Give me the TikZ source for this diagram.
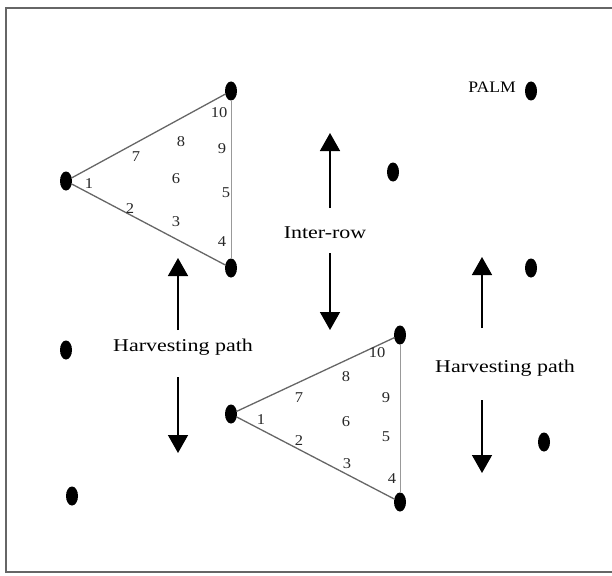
\documentclass[tikz,border=0pt]{standalone}
\usepackage{fontspec}
\setmainfont{Liberation Serif}
\usetikzlibrary{shapes.geometric,arrows.meta}

\newcommand{\wide}[2][1.22]{\scalebox{#1}[1]{#2}}

\begin{document}
\begin{tikzpicture}[x=1pt,y=-1pt,
    palm/.style={ellipse,fill=black,inner sep=0pt,minimum width=12pt,minimum height=19pt},
    rowline/.style={draw=black!60,line width=1.3pt},
    num/.style={inner sep=0pt,text=black!85,font=\fontsize{15}{15}\selectfont},
    lbl/.style={inner sep=0pt,font=\fontsize{18}{18}\selectfont},
    patharrow/.style={line width=1.5pt,-{Triangle[width=20pt,length=18pt]}}]
    \useasboundingbox (0,0) rectangle (612,575);

    % Frame
    \draw[black!60,line width=1.6pt] (620,8) -- (6,8) -- (6,572) -- (620,572);

    % Palms
    \node[palm] (p1) at (66,181) {};
    \node[palm] (p2) at (231,91) {};
    \node[palm] (p3) at (231,268) {};
    \node[palm] (q1) at (231,414) {};
    \node[palm] (q2) at (400,335) {};
    \node[palm] (q3) at (400,502) {};
    \node[palm] (r1) at (393,172) {};
    \node[palm] (r2) at (531,91) {};
    \node[palm] (r3) at (531,268) {};
    \node[palm] (r4) at (66,350) {};
    \node[palm] (r5) at (544,442) {};
    \node[palm] (r6) at (72,496) {};
    \node[lbl] (palm) at (492,87) {\wide[1.1]{\fontsize{16}{16}\selectfont PALM}};

    % Harvesting triangles
    \draw[rowline] (p1) -- (p2);
    \draw[rowline] (p1) -- (p3);
    \draw[rowline,draw=black!40,line width=0.9pt] (p2) -- (p3);
    \draw[rowline] (q1) -- (q2);
    \draw[rowline] (q1) -- (q3);
    \draw[rowline,draw=black!40,line width=0.9pt] (q2) -- (q3);

    % Order of palms, upper triangle
    \node[num] (a1) at (89,184) {\wide[1.1]{1}};
    \node[num] (a2) at (130,209) {\wide[1.1]{2}};
    \node[num] (a3) at (176,222) {\wide[1.1]{3}};
    \node[num] (a4) at (222,242) {\wide[1.1]{4}};
    \node[num] (a5) at (226,193) {\wide[1.1]{5}};
    \node[num] (a6) at (176,179) {\wide[1.1]{6}};
    \node[num] (a7) at (136,157) {\wide[1.1]{7}};
    \node[num] (a8) at (181,142) {\wide[1.1]{8}};
    \node[num] (a9) at (222,149) {\wide[1.1]{9}};
    \node[num] (a10) at (219,113) {\wide[1.1]{10}};

    % Order of palms, lower triangle
    \node[num] (b1) at (261,420) {\wide[1.1]{1}};
    \node[num] (b2) at (299,441) {\wide[1.1]{2}};
    \node[num] (b3) at (347,464) {\wide[1.1]{3}};
    \node[num] (b4) at (392,479) {\wide[1.1]{4}};
    \node[num] (b5) at (386,437) {\wide[1.1]{5}};
    \node[num] (b6) at (346,422) {\wide[1.1]{6}};
    \node[num] (b7) at (299,398) {\wide[1.1]{7}};
    \node[num] (b8) at (346,377) {\wide[1.1]{8}};
    \node[num] (b9) at (386,398) {\wide[1.1]{9}};
    \node[num] (b10) at (377,353) {\wide[1.1]{10}};

    % Labels and arrows
    \node[lbl] (inter) at (325,233) {\wide{Inter-row}};
    \node[lbl] (harvL) at (183,347) {\wide{Harvesting path}};
    \node[lbl] (harvR) at (505,368) {\wide{Harvesting path}};
    \coordinate (interUp) at (330,133);
    \coordinate (interDn) at (330,330);
    \coordinate (harvLUp) at (178,258);
    \coordinate (harvLDn) at (178,453);
    \coordinate (harvRUp) at (482,257);
    \coordinate (harvRDn) at (482,473);
    \draw[patharrow,shorten <=25pt] (inter.center -| interUp) -- (interUp);
    \draw[patharrow,shorten <=20pt] (inter.center -| interDn) -- (interDn);
    \draw[patharrow,shorten <=17pt] (harvL.center -| harvLUp) -- (harvLUp);
    \draw[patharrow,shorten <=30pt] (harvL.center -| harvLDn) -- (harvLDn);
    \draw[patharrow,shorten <=40pt] (harvR.center -| harvRUp) -- (harvRUp);
    \draw[patharrow,shorten <=32pt] (harvR.center -| harvRDn) -- (harvRDn);
\end{tikzpicture}
\end{document}
